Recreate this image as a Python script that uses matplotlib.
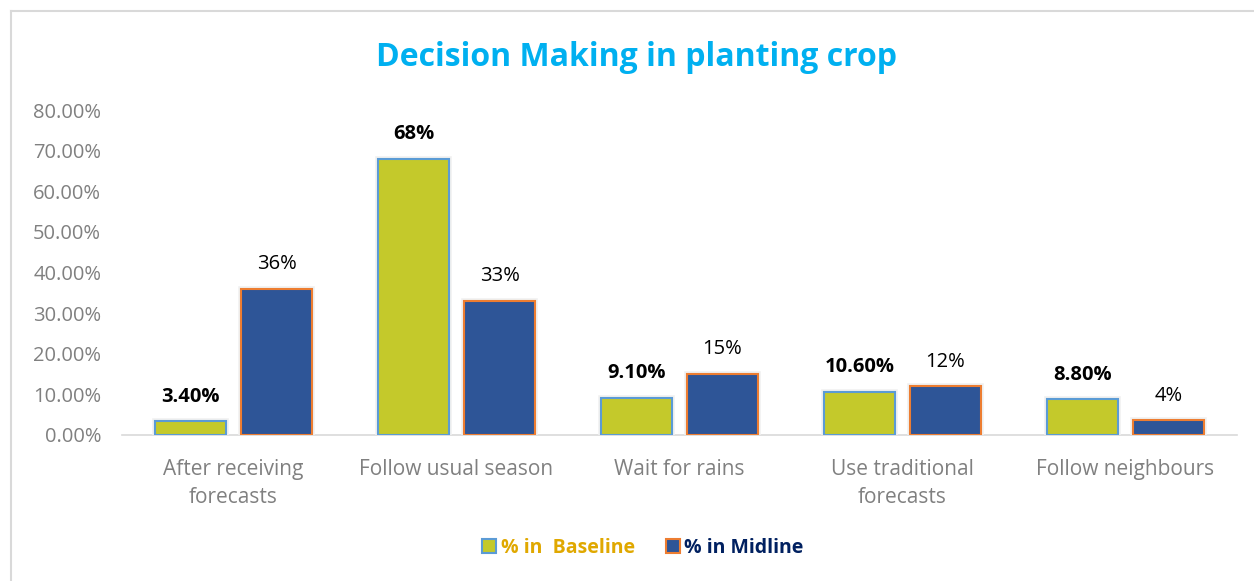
import matplotlib.pyplot as plt
import matplotlib.patheffects as pe
from matplotlib.lines import Line2D
from matplotlib.patches import Patch
import numpy as np

categories = ["After receiving\nforecasts", "Follow usual season", "Wait for rains",
              "Use traditional\nforecasts", "Follow neighbours"]
baseline = [3.4, 68, 9.1, 10.6, 8.8]
midline = [36, 33, 15, 12, 3.6]
baseline_labels = ["3.40%", "68%", "9.10%", "10.60%", "8.80%"]
midline_labels = ["36%", "33%", "15%", "12%", "4%"]
yticks = [0, 10, 20, 30, 40, 50, 60, 70, 80]

plt.rcParams['font.family'] = ['Open Sans', 'DejaVu Sans']

fig = plt.figure(figsize=(12.54, 5.81), dpi=100)
ax = fig.add_axes([122/1254, 1-435/581, (1237-122)/1254, (435-110)/581])

x = np.arange(len(categories))
w = 0.315
glow = [pe.Stroke(linewidth=4, foreground='#f0f0f0'), pe.Normal()]
b1 = ax.bar(x - 0.0355 - w/2, baseline, w, color='#C4C92B', edgecolor='#5B9BD5', linewidth=1.5,
            path_effects=glow, zorder=3)
b2 = ax.bar(x + 0.0355 + w/2, midline, w, color='#2E5597', edgecolor='#ED7D31', linewidth=1.5,
            path_effects=glow, zorder=3)

for r, t in zip(b1, baseline_labels):
    ax.text(r.get_x() + r.get_width()/2, r.get_height() + 3.6, t, ha='center', va='bottom',
            fontsize=14.5, fontweight='bold', color='black')
for r, t in zip(b2, midline_labels):
    ax.text(r.get_x() + r.get_width()/2, r.get_height() + 3.6, t, ha='center', va='bottom',
            fontsize=14.5, color='black')

ax.set_xlim(-0.5, 4.5)
ax.set_ylim(0, 80)
ax.set_yticks(yticks)
ax.set_yticklabels(["%.2f%%" % v for v in yticks])
ax.set_xticks(x)
ax.set_xticklabels(categories, linespacing=1.45)
ax.tick_params(axis='both', length=0, labelcolor='#808080')
ax.tick_params(axis='y', pad=15, labelsize=14.5)
ax.tick_params(axis='x', pad=17, labelsize=15)
for s in ['top', 'right', 'left']:
    ax.spines[s].set_visible(False)
ax.spines['bottom'].set_color('#d9d9d9')
ax.spines['bottom'].set_linewidth(1.2)

fig.text(637/1254, 1-57/581, "Decision Making in planting crop", ha='center', va='center',
         fontsize=23, fontweight='bold', color='#00B0F0')

# chart border (left and top visible)
fig.add_artist(Line2D([11/1254, 11/1254], [0, 1-11/581], color='#d9d9d9', lw=1.5))
fig.add_artist(Line2D([11/1254, 1], [1-11/581, 1-11/581], color='#d9d9d9', lw=1.5))

handles = [Patch(facecolor='#C4C92B', edgecolor='#5B9BD5', linewidth=1.5),
           Patch(facecolor='#2E5597', edgecolor='#ED7D31', linewidth=1.5)]
leg = fig.legend(handles, ["% in  Baseline", "% in Midline"], loc='center',
                 bbox_to_anchor=(643/1254, 1-548/581), ncol=2, frameon=False,
                 handlelength=0.7, handleheight=0.7, handletextpad=0.25, columnspacing=1.6,
                 prop={'weight': 'bold', 'size': 14})
leg.get_texts()[0].set_color('#E0A800')
leg.get_texts()[1].set_color('#002060')

fig.savefig('out.png', dpi=100)
